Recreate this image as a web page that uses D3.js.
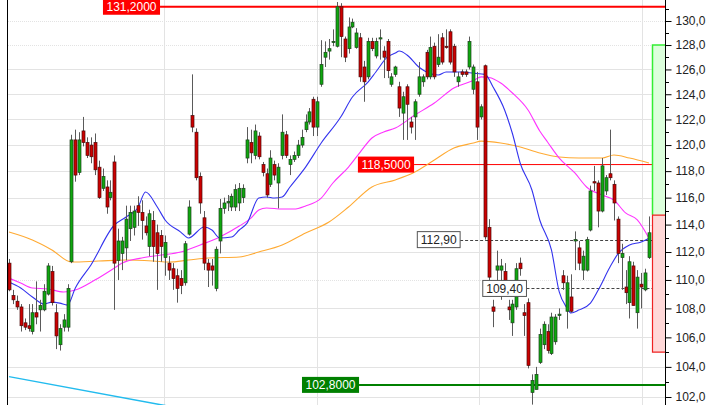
<!DOCTYPE html>
<html><head><meta charset="utf-8">
<script src="https://cdn.jsdelivr.net/npm/d3@7"></script>
<style>body{margin:0;background:#fff}svg{display:block}</style>
</head><body><svg id="c" width="720" height="405"></svg>
<script>
// ---- data ----
const open = [
111.2,108.9,108.5,108.1,107.0,106.8,106.4,107.7,107.9,107.9,109.0,110.6,107.7,105.5,106.7,106.7,111.3,
120.4,117.9,121.1,120.2,120.0,120.2,118.3,116.7,116.8,116.0,118.7,111.4,111.9,112.3,113.7,113.8,115.4,114.9,113.9,112.4,114.3,113.4,113.2,111.6,111.2,110.8,110.3,110.1,109.8,113.3,122.3,121.0,117.6,114.5,111.2,111.0,109.4,112.8,115.2,115.6,115.3,115.3,
115.6,116.0,119.0,120.2,119.2,120.7,118.5,117.8,117.0,118.5,117.1,119.2,120.8,118.5,118.9,119.2,120.0,121.2,121.8,123.6,121.4,
124.8,127.0,127.5,128.2,127.9,131.2,128.5,127.7,129.5,127.8,128.6,126.2,125.4,128.3,127.1,128.5,127.5,128.3,124.8,125.6,124.6,122.5,124.6,121.8,122.2,124.0,125.0,127.4,125.4,127.9,126.4,128.6,127.9,129.1,127.9,125.0,125.8,125.8,126.2,124.4,
125.0,122.2,126.3,113.8,108.1,110.7,110.7,110.6,108.1,107.0,108.1,111.2,107.7,108.4,102.3,102.5,104.3,105.5,106.4,104.9,105.7,107.5,110.3,107.8,108.8,112.8,112.3,110.7,110.7,113.6,117.2,117.1,115.0,116.5,117.8,117.0,114.4,111.6,109.5,108.4,111.0,107.7,109.7,109.3,111.6];
const high = [
111.5,109.3,108.9,108.3,107.3,108.3,108.3,109.9,108.6,109.7,111.2,111.0,108.3,106.9,107.6,109.7,120.8,
121.2,121.0,122.2,120.6,120.6,120.9,118.8,118.2,117.3,117.3,119.2,113.7,113.1,115.4,115.4,115.4,116.1,115.8,114.6,115.1,115.0,114.0,113.6,113.2,111.7,111.2,110.8,110.7,112.8,115.8,125.6,121.3,117.9,115.0,111.5,111.5,112.4,115.9,116.0,116.2,116.3,117.0,
117.1,117.0,121.4,121.2,121.6,121.0,118.7,118.2,119.6,118.8,118.6,122.4,121.1,119.2,119.5,120.4,121.2,122.4,122.9,123.8,123.8,
128.4,128.3,128.5,129.3,131.6,131.5,128.7,130.3,130.2,129.4,129.0,126.7,128.6,128.6,128.6,129.3,127.9,128.5,125.7,126.3,125.0,124.2,124.8,122.2,123.6,126.6,125.6,127.6,128.7,128.2,128.9,129.0,129.3,129.3,128.1,125.8,126.0,126.0,128.7,126.4,
125.8,123.2,126.4,114.4,108.6,112.1,111.5,111.2,108.6,108.6,111.2,111.6,108.3,108.7,103.5,104.0,106.6,107.1,106.9,107.7,107.6,108.0,110.7,110.3,110.4,113.5,112.8,112.1,113.1,116.9,118.4,117.3,119.0,117.7,121.2,117.3,114.6,112.6,110.7,111.7,111.3,110.7,110.5,110.8,114.6];
const low = [
109.2,108.3,107.9,106.4,106.5,106.4,106.2,106.9,106.4,107.8,108.9,108.2,105.2,105.1,106.4,106.4,111.2,
117.2,117.7,119.9,119.0,118.6,117.7,115.9,116.5,114.8,115.8,107.9,110.0,110.7,111.4,112.8,113.2,113.9,112.9,113.2,111.7,111.3,109.3,111.3,110.3,110.0,109.3,108.4,109.0,109.6,113.2,121.0,117.3,114.8,110.7,109.5,109.6,109.2,111.9,114.8,115.0,115.0,115.0,
115.0,115.6,118.6,118.6,118.9,118.9,117.6,116.0,116.8,117.3,115.2,118.9,119.0,117.7,118.7,119.0,119.8,121.0,121.6,120.7,120.7,
124.6,126.2,126.8,127.9,127.8,127.0,126.6,127.3,129.4,127.7,125.0,123.4,125.2,127.5,126.9,126.8,125.3,125.3,124.6,125.4,122.2,120.4,120.4,120.9,120.4,123.8,124.6,125.2,125.2,125.2,126.2,126.4,127.7,126.4,125.4,124.6,125.4,125.4,126.0,124.0,
120.4,122.0,112.9,110.0,106.7,109.7,108.6,108.9,107.2,106.1,107.9,110.3,106.1,103.9,101.5,102.5,104.2,105.2,104.9,104.8,105.5,107.2,109.3,106.6,107.7,110.7,110.7,110.0,110.6,113.5,116.5,113.8,114.9,116.2,117.3,114.3,111.2,109.3,108.3,107.3,108.2,106.6,108.0,109.2,111.5];
const close = [
109.3,108.6,108.1,106.8,106.7,106.6,107.7,107.4,108.2,109.2,111.0,108.4,106.1,106.6,107.2,109.4,120.4,
117.7,120.4,120.2,119.2,119.1,118.1,116.0,117.6,115.3,116.4,111.2,112.8,112.8,114.4,114.9,115.0,114.9,114.3,113.4,114.8,112.4,111.9,112.4,112.7,110.7,110.1,109.4,109.6,112.6,115.3,121.4,117.5,115.6,111.2,110.7,110.7,112.2,115.2,115.6,115.7,116.1,116.6,
116.7,116.7,120.4,119.4,121.1,119.1,117.9,116.2,119.0,117.7,118.3,121.0,119.2,118.9,119.2,120.0,120.6,121.8,122.6,121.4,123.4,
126.4,127.4,127.7,128.3,131.2,128.7,127.0,129.5,129.9,129.0,125.4,125.0,128.3,127.7,128.3,128.6,127.0,125.9,125.4,126.2,122.9,123.8,123.2,121.4,123.4,125.4,125.4,125.4,127.8,125.4,127.0,126.6,127.8,126.6,125.8,125.4,125.6,125.6,128.3,126.2,
121.4,123.0,113.1,110.2,107.8,111.0,111.0,109.3,107.9,108.3,110.8,110.8,107.5,104.1,103.1,103.5,106.2,106.9,105.1,107.4,107.4,107.6,109.8,109.8,107.8,112.9,111.2,111.7,112.9,116.5,117.1,115.0,118.4,117.5,117.5,115.6,111.9,111.9,109.1,111.3,108.2,110.2,109.5,110.5,113.4];

// moving averages: [candle index, value]
const maFast = [[0,109.85],[3,109.43],[6,108.80],[9,108.30],[11,108.44],[13,108.37],[15,108.23],[17,109.43],[21,111.07],[27,113.97],[30,114.56],[33,115.23],[35,116.42],[38,115.30],[40,114.34],[44,113.45],[46,113.02],[50,113.82],[52,113.60],[54,113.02],[57,113.09],[59,113.60],[61,114.11],[64,115.97],[66,116.05],[68,115.97],[70,116.05],[72,116.80],[76,118.31],[80,120.16],[85,122.19],[88,123.78],[92,124.98],[94,125.79],[97,127.02],[99,127.34],[100,127.51],[102,127.18],[105,126.20],[110,125.55],[112,125.79],[116,125.79],[119,125.70],[122,125.60],[124,124.60],[127,122.75],[129,120.90],[131,118.60],[134,116.57],[136,114.34],[139,112.15],[141,109.15],[143,108.03],[144,107.68],[146,107.88],[149,108.37],[151,109.29],[154,110.92],[156,111.85],[159,112.51],[162,112.72],[164,113.0]];
const maMid = [[0,110.13],[3,109.78],[6,109.43],[10,109.36],[14,109.15],[17,109.29],[22,109.99],[27,110.85],[29,111.21],[34,111.57],[39,111.78],[44,112.00],[49,112.51],[54,113.09],[59,113.89],[62,114.48],[64,115.08],[66,115.23],[70,115.15],[73,115.15],[76,115.38],[80,115.97],[83,117.10],[87,118.31],[90,119.46],[93,120.55],[96,121.02],[99,121.33],[104,122.35],[109,123.30],[114,124.50],[119,125.10],[121,125.40],[123,125.35],[126,124.90],[129,124.10],[133,122.75],[136,121.10],[138,120.24],[141,119.00],[145,117.86],[148,116.80],[152,116.19],[155,115.82],[158,114.86],[161,114.34],[164,113.0]];
const maSlow = [[0,113.45],[6,112.87],[11,112.15],[16,111.28],[23,111.35],[30,111.42],[37,111.35],[41,111.28],[46,111.42],[51,111.57],[59,111.64],[64,112.00],[70,112.51],[76,113.38],[82,114.19],[87,115.30],[93,116.80],[99,117.33],[104,117.93],[109,118.85],[114,119.77],[119,120.16],[121,120.31],[126,120.16],[131,119.85],[136,119.39],[141,119.08],[146,119.00],[152,119.00],[155,119.23],[159,119.00],[164,118.62]];
const trendLine = [[0,103.35],[60,100.5]];

const yTicks = [102,104,106,108,110,112,114,116,118,120,122,124,126,128,130];
const yMinor = [101,103,105,107,109,111,113,115,117,119,121,123,125,127,129,131];
const dottedGrid = [110,128,130];
const vGrid = [39.6, 79, 120.5, 162.3];

const levelVals = [131.2, 118.5, 102.8];
const levelStart = [38.7, 103.8, 89.7];
const markVals = [112.9, 109.4];
const markStart = [115.6, 132.6];
const zoneVals = [128, 114.7, 105];

// ---- chart ----
const svg = d3.select('#c');
const W = 720, H = 405, axisX = 665, plotL = 8;
const n = close.length;
const x = d3.scaleLinear().domain([0, n - 1]).range([9, 649]);
const y = d3.scaleLog().domain([102, 130]).range([397, 21]);
const FONT = "'Liberation Sans', Arial, sans-serif";

svg.append('rect').attr('width', W).attr('height', H).attr('fill', '#ffffff');
svg.append('defs').append('clipPath').attr('id', 'pc')
  .append('rect').attr('x', plotL).attr('y', 0).attr('width', axisX - plotL).attr('height', H);

const grid = svg.append('g');
grid.selectAll('line.h').data(yTicks).join('line')
  .attr('x1', plotL).attr('x2', axisX).attr('y1', d => Math.round(y(d)) + 0.5).attr('y2', d => Math.round(y(d)) + 0.5)
  .attr('stroke', '#e3e3e3').attr('stroke-width', 1)
  .attr('stroke-dasharray', d => dottedGrid.includes(d) ? '1,1' : null);
grid.selectAll('line.v').data(vGrid).join('line')
  .attr('x1', d => Math.round(x(d)) + 0.5).attr('x2', d => Math.round(x(d)) + 0.5).attr('y1', 0).attr('y2', H)
  .attr('stroke', '#e3e3e3').attr('stroke-width', 1);

const plot = svg.append('g').attr('clip-path', 'url(#pc)');

// trend line
plot.append('path').datum(trendLine)
  .attr('d', d3.line().x(d => x(d[0])).y(d => y(d[1])))
  .attr('fill', 'none').attr('stroke', '#22bbee').attr('stroke-width', 1.5);

// level lines
levelVals.forEach((v, i) => {
  const col = i === 2 ? '#008000' : '#ff0000';
  plot.append('line').attr('x1', x(levelStart[i])).attr('x2', axisX)
    .attr('y1', y(v)).attr('y2', y(v)).attr('stroke', col).attr('stroke-width', i === 1 ? 1 : 2);
});
markVals.forEach((v, i) => {
  plot.append('line').attr('x1', x(markStart[i])).attr('x2', axisX)
    .attr('y1', Math.round(y(v)) + 0.5).attr('y2', Math.round(y(v)) + 0.5)
    .attr('stroke', '#444').attr('stroke-width', 1).attr('stroke-dasharray', '3,2');
});

// zones at right
const zx = 652;
plot.append('rect').attr('x', zx).attr('y', y(zoneVals[0])).attr('width', axisX - zx).attr('height', y(zoneVals[1]) - y(zoneVals[0]))
  .attr('fill', '#dcffdc');
plot.append('path').attr('d', `M${axisX},${y(zoneVals[0])}H${zx + 0.5}V${y(zoneVals[1])}`).attr('fill', 'none').attr('stroke', '#33ee33').attr('stroke-width', 1.5);
plot.append('rect').attr('x', zx).attr('y', y(zoneVals[1])).attr('width', axisX - zx).attr('height', y(zoneVals[2]) - y(zoneVals[1]))
  .attr('fill', '#ffd8d8');
plot.append('path').attr('d', `M${zx + 0.5},${y(zoneVals[1])}V${y(zoneVals[2])}H${axisX}M${zx},${y(zoneVals[1])}H${axisX}`).attr('fill', 'none').attr('stroke', '#ee2222').attr('stroke-width', 1.2);

// moving averages
const ln = d3.line().x(d => x(d[0])).y(d => y(d[1])).curve(d3.curveMonotoneX);
plot.append('path').datum(maSlow).attr('d', ln).attr('fill', 'none').attr('stroke', '#ffaa33').attr('stroke-width', 1.1);
plot.append('path').datum(maMid).attr('d', ln).attr('fill', 'none').attr('stroke', '#ff33ff').attr('stroke-width', 1.1);
plot.append('path').datum(maFast).attr('d', ln).attr('fill', 'none').attr('stroke', '#3333ee').attr('stroke-width', 1.1);

// candles
const idx = d3.range(n);
const bw = 3;
const cg = plot.append('g');
cg.selectAll('line').data(idx).join('line')
  .attr('x1', i => Math.round(x(i)) + 0.5).attr('x2', i => Math.round(x(i)) + 0.5)
  .attr('y1', i => y(high[i])).attr('y2', i => y(low[i]))
  .attr('stroke', '#5a5a5a').attr('stroke-width', 1);
cg.selectAll('rect').data(idx).join('rect')
  .attr('x', i => Math.round(x(i)) + 0.5 - bw / 2)
  .attr('width', bw)
  .attr('y', i => y(Math.max(open[i], close[i])))
  .attr('height', i => Math.max(1, Math.abs(y(open[i]) - y(close[i]))))
  .attr('fill', i => close[i] >= open[i] ? '#0fa80f' : '#cc0000')
  .attr('stroke', i => close[i] >= open[i] ? '#1f3f1f' : '#4a0a0a')
  .attr('stroke-width', 0.7);

// tags
function tag(v, endIdx, txt, bg, fg, border) {
  const yy = y(v);
  const g = svg.append('g');
  const r = g.append('rect');
  const t = g.append('text').text(txt).attr('font-family', FONT).attr('font-size', 12).attr('fill', fg);
  const w = t.node().getComputedTextLength();
  const x1 = x(endIdx);
  r.attr('x', x1 - w - 7).attr('y', Math.max(0, yy - 8)).attr('width', w + 7).attr('height', yy - 8 < 0 ? yy + 8 : 16)
    .attr('fill', bg).attr('stroke', border || 'none').attr('stroke-width', 1);
  t.attr('x', x1 - w - 3.5).attr('y', yy + 4.3);
}
tag(levelVals[0], levelStart[0], levelVals[0].toFixed(4).replace('.', ','), '#ff0000', '#ffffff');
tag(levelVals[1], levelStart[1], levelVals[1].toFixed(4).replace('.', ','), '#ff0000', '#ffffff');
tag(levelVals[2], levelStart[2], levelVals[2].toFixed(4).replace('.', ','), '#008000', '#ffffff');
markVals.forEach((v, i) => tag(v, markStart[i], v.toFixed(2).replace('.', ','), '#ffffff', '#222', '#555'));

// frame + axis
svg.append('line').attr('x1', 7.5).attr('x2', 7.5).attr('y1', 0).attr('y2', H).attr('stroke', '#000');
svg.append('rect').attr('x', axisX + 0.5).attr('y', 0).attr('width', W - axisX).attr('height', H).attr('fill', '#fff');
const ax = svg.append('g').attr('transform', `translate(${axisX + 0.5},0)`)
  .call(d3.axisRight(y).tickValues(yTicks).tickSize(6).tickPadding(4).tickFormat(d => d.toFixed(1).replace('.', ',')));
ax.select('.domain').remove();
ax.selectAll('text').attr('font-family', FONT).attr('font-size', 12).attr('fill', '#222');
ax.selectAll('line').attr('stroke', '#000');
svg.append('g').selectAll('line').data(yMinor).join('line')
  .attr('x1', axisX).attr('x2', axisX + 4).attr('y1', d => Math.round(y(d)) + 0.5).attr('y2', d => Math.round(y(d)) + 0.5)
  .attr('stroke', '#000');
svg.append('line').attr('x1', axisX + 0.5).attr('x2', axisX + 0.5).attr('y1', 0).attr('y2', H).attr('stroke', '#000');
</script></body></html>
